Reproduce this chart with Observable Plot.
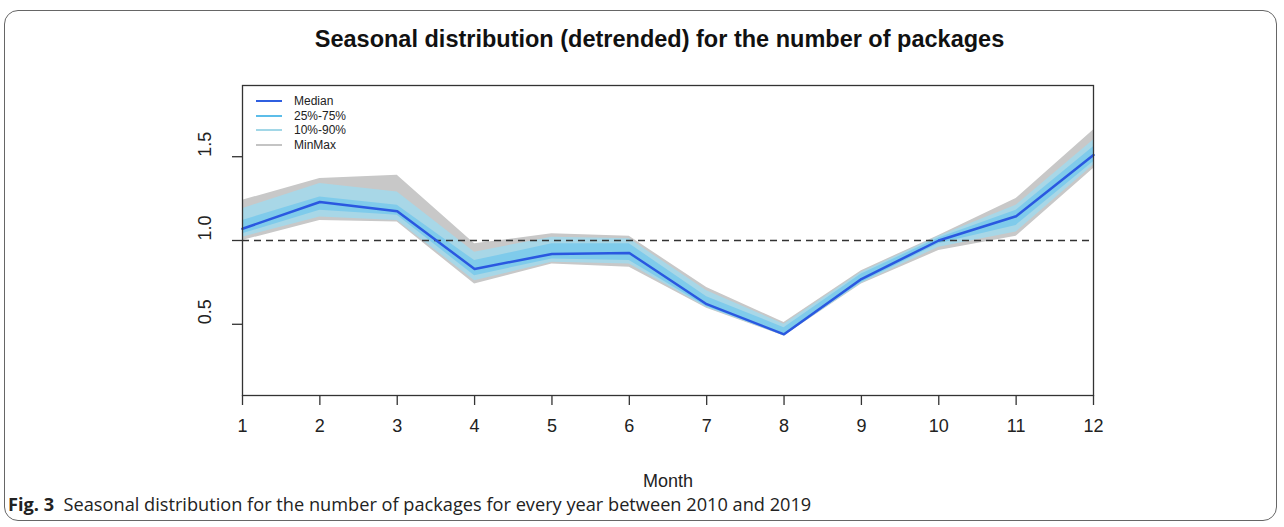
<!DOCTYPE html>
<html>
<head>
<meta charset="utf-8">
<script src="https://cdn.jsdelivr.net/npm/d3@7"></script>
<script src="https://cdn.jsdelivr.net/npm/@observablehq/plot@0.6"></script>
<style>
  html, body { margin: 0; padding: 0; background: #fff; }
  body { width: 1284px; height: 527px; position: relative; overflow: hidden; font-family: "Liberation Sans", Arial, sans-serif; }
  #border { position: absolute; left: 4px; top: 10px; width: 1273px; height: 511px; border: 1.5px solid #666; border-radius: 14px; box-sizing: border-box; }
  #title { position: absolute; top: 28px; left: 234px; width: 851px; text-align: center; font-weight: bold; font-size: 23.5px; line-height: 23.5px; color: #111; white-space: nowrap; }
  #chart { position: absolute; left: 0; top: 60px; }
  #legend { position: absolute; left: 256px; top: 94px; font-size: 12px; color: #222; }
  #legend .row { display: flex; align-items: center; height: 14.5px; }
  #legend .sw { width: 26px; height: 2px; margin-right: 12px; }
  #caption { position: absolute; left: 8px; top: 492px; font-family: "Open Sans", sans-serif; font-size: 18.2px; color: #222; white-space: nowrap; }
</style>
</head>
<body>
<div id="border"></div>
<div id="title">Seasonal distribution (detrended) for the number of packages</div>
<div id="chart"></div>
<div id="legend"></div>
<div id="caption"><b>Fig. 3</b>&nbsp; Seasonal distribution for the number of packages for every year between 2010 and 2019</div>
<script>
const months = [1, 2, 3, 4, 5, 6, 7, 8, 9, 10, 11, 12];
const medianV = [1.07, 1.23, 1.175, 0.83, 0.92, 0.925, 0.62, 0.44, 0.77, 1.00, 1.145, 1.51];
const p25V    = [1.04, 1.18, 1.15, 0.79, 0.89, 0.88, 0.605, 0.435, 0.75, 0.98, 1.09, 1.47];
const p75V    = [1.12, 1.26, 1.21, 0.88, 0.98, 0.98, 0.665, 0.48, 0.80, 1.015, 1.18, 1.56];
const p10V    = [1.02, 1.14, 1.12, 0.76, 0.87, 0.86, 0.60, 0.432, 0.745, 0.96, 1.05, 1.45];
const p90V    = [1.19, 1.34, 1.29, 0.93, 1.02, 1.01, 0.70, 0.50, 0.81, 1.025, 1.21, 1.60];
const minV    = [1.00, 1.12, 1.11, 0.74, 0.86, 0.84, 0.595, 0.43, 0.74, 0.94, 1.025, 1.43];
const maxV    = [1.24, 1.37, 1.39, 0.98, 1.04, 1.025, 0.72, 0.51, 0.82, 1.03, 1.25, 1.66];
const yTicks = [0.5, 1.0, 1.5];
const refLine = [1];
const xTitle = ["Month"];
const legendItems = [
  {label: "Median", color: "#2f5fe0"},
  {label: "25%-75%", color: "#5cbde9"},
  {label: "10%-90%", color: "#a2d7e7"},
  {label: "MinMax", color: "#c4c4c4"}
];

const data = months.map((m, i) => ({
  month: m, median: medianV[i], p25: p25V[i], p75: p75V[i],
  p10: p10V[i], p90: p90V[i], min: minV[i], max: maxV[i]
}));

const chart = Plot.plot({
  width: 1284,
  height: 430,
  marginLeft: 242,
  marginRight: 191,
  marginTop: 25,
  marginBottom: 95,
  style: {fontFamily: "'Liberation Sans', Arial, sans-serif", fontSize: "18px", color: "#222", background: "transparent", overflow: "visible"},
  x: {domain: [1, 12], label: null},
  y: {domain: [0.075, 1.925], label: null},
  marks: [
    Plot.areaY(data, {x: "month", y1: "min", y2: "max", fill: "#c8c8c8"}),
    Plot.areaY(data, {x: "month", y1: "p10", y2: "p90", fill: "#a8d7e7"}),
    Plot.areaY(data, {x: "month", y1: "p25", y2: "p75", fill: "#7fcbeb"}),
    Plot.ruleY(refLine, {stroke: "#333", strokeWidth: 1.6, strokeDasharray: "7,5"}),
    Plot.lineY(data, {x: "month", y: "median", stroke: "#2a58e0", strokeWidth: 2.5}),
    Plot.frame({stroke: "#333", strokeWidth: 1.3}),
    Plot.axisX(months, {tickSize: 10, tickPadding: 14, fontSize: 18, stroke: "#333", strokeWidth: 1.3, label: null}),
    Plot.axisY(yTicks, {tickSize: 10, tickFormat: () => "", stroke: "#333", strokeWidth: 1.3, label: null}),
    Plot.text(yTicks, {y: d => d, frameAnchor: "left", dx: -37, rotate: -90, text: d => d.toFixed(1), fontSize: 18, fill: "#222"}),
    Plot.text(xTitle, {frameAnchor: "bottom", dy: 91, text: d => d, fontSize: 18, fill: "#222"})
  ]
});
document.getElementById("chart").appendChild(chart);

const legend = d3.select("#legend");
legendItems.forEach(item => {
  const row = legend.append("div").attr("class", "row");
  row.append("div").attr("class", "sw").style("background", item.color);
  row.append("span").text(item.label);
});
</script>
</body>
</html>
